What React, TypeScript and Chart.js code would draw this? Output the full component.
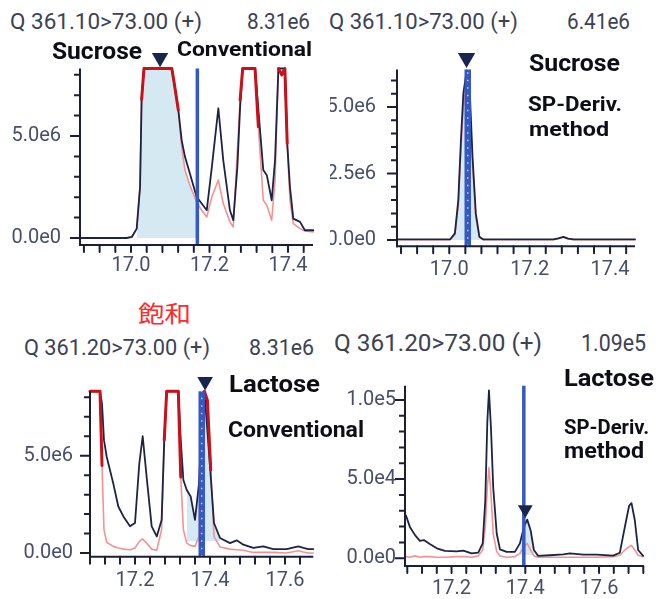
import React, { useEffect, useRef } from "react";
import { Chart, registerables } from "chart.js";

Chart.register(...registerables);

// ---------------- Panel 1: Sucrose, Conventional (Q 361.10>73.00, max 8.31e6) ----------------
const sucConvTime = [16.87, 16.989, 17.002, 17.0145, 17.023, 17.027, 17.033, 17.104, 17.11, 17.1205, 17.129, 17.1375, 17.15, 17.167, 17.18, 17.193, 17.206, 17.2225, 17.235, 17.252, 17.2606, 17.271, 17.278, 17.2845, 17.316, 17.3245, 17.337, 17.346, 17.3585, 17.367, 17.3755, 17.384, 17.392, 17.398, 17.405, 17.4135, 17.4306, 17.443, 17.4645];
const sucConvDark = [0, 0, 0.05, 0.46, 2.5, 6.8, 8.31, 8.31, 7.6, 6.28, 4.8, 3.98, 3.16, 2.02, 1.69, 1.36, 3.49, 6.36, 3.82, 1.36, 0.87, 3.49, 6.44, 8.31, 8.31, 6.28, 3.33, 3.08, 1.85, 3.82, 8.31, 8.31, 8.31, 4.64, 2.5, 0.95, 0.79, 0.38, 0.38];
const sucConvPink = [0, 0, 0.05, 0.46, 2.5, 6.8, 8.31, 8.31, 7.6, 6.28, 4.48, 3.33, 2.59, 1.77, 1.36, 1.03, 2.02, 2.84, 1.69, 0.79, 0.54, 4.3, 6.77, 8.31, 8.31, 5.46, 1.85, 1.61, 0.87, 2.84, 8.31, 8.0, 8.31, 4.64, 1.85, 0.7, 0.46, 0.34, 0.3];
const sucConvSaturated = [0, 0, 0, 0, 0, 1, 1, 1, 1, 1, 0, 0, 0, 0, 0, 0, 0, 0, 0, 0, 0, 0, 1, 1, 1, 1, 0, 0, 0, 0, 1, 1, 1, 1, 0, 0, 0, 0, 0];

// ---------------- Panel 2: Sucrose, SP-Deriv. method (Q 361.10>73.00, max 6.41e6) ----------------
const sucDerivTime = [16.87, 17.002, 17.014, 17.0225, 17.029, 17.035, 17.0433, 17.0515, 17.058, 17.066, 17.075, 17.085, 17.259, 17.271, 17.284, 17.296, 17.309, 17.462];
const sucDerivDark = [0.02, 0.02, 0.25, 1.5, 3.75, 5.5, 6.38, 5.4, 3.1, 1.0, 0.12, 0.02, 0.02, 0.06, 0.12, 0.05, 0.02, 0.02];
const sucDerivPink = [0.01, 0.01, 0.2, 1.3, 3.4, 5.0, 5.9, 4.9, 2.8, 0.85, 0.1, 0.01, 0.01, 0.05, 0.1, 0.04, 0.01, 0.01];
const sucDerivSaturated = [0, 0, 0, 0, 0, 0, 0, 0, 0, 0, 0, 0, 0, 0, 0, 0, 0, 0];

// ---------------- Panel 3: Lactose, Conventional (Q 361.20>73.00, max 8.31e6) ----------------
const lacConvTime = [17.08, 17.1067, 17.112, 17.1173, 17.1245, 17.142, 17.1555, 17.169, 17.1867, 17.2, 17.2115, 17.2205, 17.231, 17.2445, 17.258, 17.271, 17.278, 17.2845, 17.3155, 17.322, 17.329, 17.338, 17.3485, 17.36, 17.3707, 17.3795, 17.385, 17.393, 17.402, 17.4107, 17.4267, 17.4533, 17.4712, 17.489, 17.5155, 17.542, 17.5689, 17.6045, 17.6355, 17.649, 17.662, 17.6755];
const lacConvDark = [8.31, 8.31, 7.68, 5.8, 4.95, 3.58, 2.39, 1.88, 1.37, 1.54, 4.6, 6.0, 3.92, 1.37, 0.85, 1.7, 5.8, 8.31, 8.31, 5.8, 3.75, 3.24, 2.9, 1.7, 3.58, 7.5, 8.31, 6.3, 3.92, 1.54, 0.77, 0.51, 0.65, 0.43, 0.26, 0.34, 0.2, 0.2, 0.34, 0.26, 0.2, 0.2];
const lacConvPink = [8.31, 8.31, 4.5, 1.2, 0.55, 0.34, 0.26, 0.2, 0.17, 0.26, 0.6, 0.72, 0.51, 0.2, 0.14, 1.2, 5.8, 8.31, 8.31, 3.9, 1.2, 0.51, 0.38, 0.34, 0.85, 8.2, 8.31, 7.85, 4.27, 0.85, 0.31, 0.2, 0.17, 0.14, 0.03, 0.03, 0.03, 0.0, 0.12, 0.05, 0.0, 0.0];
const lacConvSaturated = [1, 1, 1, 0, 0, 0, 0, 0, 0, 0, 0, 0, 0, 0, 0, 0, 1, 1, 1, 1, 0, 0, 0, 0, 0, 1, 1, 1, 1, 0, 0, 0, 0, 0, 0, 0, 0, 0, 0, 0, 0, 0];

// ---------------- Panel 4: Lactose, SP-Deriv. method (Q 361.20>73.00, max 1.09e5) ----------------
const lacDerivTime = [17.0765, 17.087, 17.101, 17.114, 17.125, 17.141, 17.16, 17.182, 17.214, 17.232, 17.2545, 17.2725, 17.2845, 17.2915, 17.297, 17.3015, 17.307, 17.313, 17.3225, 17.3313, 17.3494, 17.3718, 17.3854, 17.3963, 17.4052, 17.4144, 17.4233, 17.435, 17.4667, 17.5028, 17.521, 17.557, 17.5933, 17.6383, 17.6564, 17.67, 17.6817, 17.688, 17.697, 17.706, 17.7196];
const lacDerivDark = [27, 19.8, 14.6, 11, 11.5, 9, 6.25, 4.6, 4.4, 4.8, 3.1, 3.5, 9.4, 36.5, 86, 106, 82, 44.8, 15.6, 5.6, 4, 4, 9.4, 19.8, 24.4, 17.7, 5.2, 1.5, 1.9, 2.5, 3.1, 2.3, 2.3, 1.7, 3.5, 19.8, 33.3, 34.8, 24, 5.2, 1.5];
const lacDerivPink = [1.0, 0.6, 1.5, 0.6, 1.0, 1.0, 0.6, 0.6, 1.0, 1.0, 0.6, 1.5, 5.2, 19.8, 44.8, 57.3, 40.6, 15.6, 4.2, 1.5, 0.6, 1.0, 3.1, 7.3, 9.4, 5.2, 1.5, 0.6, 0.6, 0.6, 0.6, 0.6, 0.6, 1.0, 1.9, 5.2, 7.3, 8.1, 5.2, 1.9, 1.0];
const lacDerivSaturated = lacDerivTime.map(() => 0);

// Axis tick labels
const sucConvYLabels = [0, 5e6];
const sucDerivYLabels = [0, 2.5e6, 5e6];
const lacConvYLabels = [0, 5e6];
const lacDerivYLabels = [0, 5e4, 1e5];
const sucXLabels = [17.0, 17.2, 17.4];
const lacXLabels = [17.2, 17.4, 17.6];

// Retention-time markers and peak-apex triangles
const sucConvRT = 17.169;
const sucDerivRT = 17.046;
const lacConvRT = 17.378;
const lacDerivRT = 17.396;
const sucConvApex = { x: 17.074, y: 8.84e6 };
const sucDerivApex = { x: 17.043, y: 6.84e6 };
const lacConvApex = { x: 17.387, y: 8.81e6 };
const lacDerivApex = { x: 17.4, y: 30.8e3 };

// Colours
const AXIS = "#1a1f36";
const NAVY = "#1d2343";
const PINK = "#f29393";
const SAT_RED = "#c8111b";
const RT_BLUE = "#3558c2";
const PEAK_FILL = "#d5e9f2";
const TRI = "#17254f";
const TICK_TEXT = "#474f68";
const TITLE = "#3c4255";
const BOLD = "#0e0f16";

const PANELS: any[] = [
  {
    box: { left: 0, top: 50, width: 320, height: 230 }, padTop: 18.5, padRight: 7, yW: 80, xH: 35,
    xMin: 16.87, xMax: 17.4637, yMin: -0.343e6, yMax: 8.31e6, unit: 1e6, yStep: 1e6,
    yLabels: sucConvYLabels, xLabels: sucXLabels, yPad: 19, xPad: 8.5,
    time: sucConvTime, dark: sucConvDark, pink: sucConvPink, sat: sucConvSaturated,
    fill: { from: 17.01, to: 17.169, src: "pink", base: 0 },
    rt: sucConvRT, rtWidth: 3.5, rtDash: false, tri: sucConvApex, triR: 9.5,
  },
  {
    box: { left: 330, top: 50, width: 310, height: 230 }, padTop: 19.5, padRight: 5, yW: 67, xH: 33.7,
    xMin: 16.87, xMax: 17.462, yMin: -0.237e6, yMax: 6.41e6, unit: 1e6, yStep: 0.5e6,
    yLabels: sucDerivYLabels, xLabels: sucXLabels, yPad: 21, xPad: 11.5,
    time: sucDerivTime, dark: sucDerivDark, pink: sucDerivPink, sat: sucDerivSaturated,
    fill: { from: 17.0, to: 17.09, src: "dark", base: 0 },
    rt: sucDerivRT, rtWidth: 6.5, rtDash: true, tri: sucDerivApex, triR: 10,
  },
  {
    box: { left: 0, top: 370, width: 320, height: 225 }, padTop: 21.3, padRight: 6.7, yW: 90, xH: 38.3,
    xMin: 17.08, xMax: 17.6755, yMin: -0.19e6, yMax: 8.31e6, unit: 1e6, yStep: 1e6,
    yLabels: lacConvYLabels, xLabels: lacXLabels, yPad: 17, xPad: 12,
    time: lacConvTime, dark: lacConvDark, pink: lacConvPink, sat: lacConvSaturated,
    fill: { from: 17.335, to: 17.43, src: "dark", base: 0.6e6 },
    rt: lacConvRT, rtWidth: 6.5, rtDash: true, tri: lacConvApex, triR: 9,
  },
  {
    box: { left: 330, top: 370, width: 320, height: 229 }, padTop: 15.7, padRight: 6.7, yW: 75, xH: 33,
    xMin: 17.0738, xMax: 17.72, yMin: -4.9e3, yMax: 1.09e5, unit: 1e3, yStep: 1e4,
    yLabels: lacDerivYLabels, xLabels: lacXLabels, yPad: 9, xPad: 10.5,
    time: lacDerivTime, dark: lacDerivDark, pink: lacDerivPink, sat: lacDerivSaturated,
    fill: { from: 17.385, to: 17.425, src: "dark", base: 2e3 },
    rt: lacDerivRT, rtWidth: 3.5, rtDash: false, tri: lacDerivApex, triR: 8.5,
  },
];

const LABELS: any[] = [
  { text: "Q 361.10>73.00 (+)", x: 10, base: 29.3, size: 22.5, w: 192, color: TITLE },
  { text: "8.31e6", x: 247, base: 29.3, size: 22.5, w: 63, color: TITLE },
  { text: "Sucrose", x: 52, base: 60, size: 23.5, bold: true, w: 90, color: BOLD },
  { text: "Conventional", x: 177, base: 57, size: 21, bold: true, w: 135, color: BOLD },
  { text: "Q 361.10>73.00 (+)", x: 329, base: 29.3, size: 22.5, w: 189, color: TITLE },
  { text: "6.41e6", x: 567, base: 29.3, size: 22.5, w: 63, color: TITLE },
  { text: "Sucrose", x: 529, base: 71, size: 24, bold: true, w: 91, color: BOLD },
  { text: "SP-Deriv.", x: 528, base: 111.7, size: 21, bold: true, w: 94, color: BOLD },
  { text: "method", x: 529, base: 136.7, size: 21, bold: true, w: 80, color: BOLD },
  { text: "飽和", x: 138, base: 321.5, size: 23, w: 53, color: "#ff2a2a", cjk: true },
  { text: "Q 361.20>73.00 (+)", x: 24, base: 355.7, size: 22, w: 186, color: TITLE },
  { text: "8.31e6", x: 249, base: 355.7, size: 22, w: 65, color: TITLE },
  { text: "Lactose", x: 229, base: 392.7, size: 23.5, bold: true, w: 91, color: BOLD },
  { text: "Conventional", x: 228, base: 436.7, size: 22.5, bold: true, w: 136, color: BOLD },
  { text: "Q 361.20>73.00 (+)", x: 334, base: 351.7, size: 24.5, w: 208, color: TITLE },
  { text: "1.09e5", x: 581, base: 351.7, size: 24.5, w: 65, color: TITLE },
  { text: "Lactose", x: 564, base: 386.7, size: 23.5, bold: true, w: 90, color: BOLD },
  { text: "SP-Deriv.", x: 564, base: 435, size: 21, bold: true, w: 85, color: BOLD },
  { text: "method", x: 564, base: 458.3, size: 22, bold: true, w: 80, color: BOLD },
];

function sci(v: number) {
  if (Math.abs(v) < 1e-9) return "0.0e0";
  const e = Math.floor(Math.log10(Math.abs(v)) + 1e-9);
  return (v / Math.pow(10, e)).toFixed(1) + "e" + e;
}

function makeTicks(p: any) {
  const xTicks: number[] = [];
  for (let k = Math.ceil(p.xMin / 0.04 - 1e-6); k * 0.04 <= p.xMax + 1e-9; k++) xTicks.push(Math.round(k * 4) / 100);
  const yTicks: number[] = [];
  for (let k = 0; k * p.yStep <= p.yMax + 1e-9; k++) yTicks.push(k * p.yStep);
  return { xTicks, yTicks };
}

// Apex triangle, placed through the chart's scales
function makeApex(p: any) {
  return {
    id: "apexMarker",
    afterDraw(chart: any) {
      const ctx = chart.ctx;
      const cx = chart.scales.x.getPixelForValue(p.tri.x);
      const cy = chart.scales.y.getPixelForValue(p.tri.y);
      const r = p.triR;
      ctx.save();
      ctx.fillStyle = TRI;
      ctx.beginPath();
      ctx.moveTo(cx - r * 0.866, cy - r / 2);
      ctx.lineTo(cx + r * 0.866, cy - r / 2);
      ctx.lineTo(cx, cy + r);
      ctx.closePath();
      ctx.fill();
      ctx.restore();
    },
  };
}

function buildChart(canvas: HTMLCanvasElement, p: any) {
  const u = p.unit;
  const series = (vals: number[]) => p.time.map((t: number, i: number) => ({ x: t, y: vals[i] * u }));
  const satPts = p.time.map((t: number, i: number) => ({ x: t, y: p.sat[i] ? p.pink[i] * u : null }));
  const src = p.fill.src === "pink" ? p.pink : p.dark;
  const fillPts = p.time
    .map((t: number, i: number) => ({ x: t, y: src[i] * u }))
    .filter((pt: any) => pt.x >= p.fill.from && pt.x <= p.fill.to);
  const rtPts = [{ x: p.rt, y: p.yMin }, { x: p.rt, y: p.yMax }];
  const { xTicks, yTicks } = makeTicks(p);

  // data units per screen pixel, so axis/tick marks can be drawn as datasets
  const areaW = p.box.width - p.yW - p.padRight;
  const areaH = p.box.height - p.padTop - p.xH;
  const xpp = (p.xMax - p.xMin) / areaW;
  const ypp = (p.yMax - p.yMin) / areaH;
  const yAxisPts = [{ x: p.xMin, y: p.yMin - ypp }, { x: p.xMin, y: p.yMax }];
  const xAxisPts = [{ x: p.xMin - xpp, y: p.yMin }, { x: p.xMax, y: p.yMin }];
  const yTickPts: any[] = [];
  yTicks.forEach((v) => {
    const major = p.yLabels.some((l: number) => Math.abs(l - v) < p.yStep * 0.01);
    const len = major ? 10 : 6;
    yTickPts.push({ x: p.xMin - len * xpp, y: v }, { x: p.xMin, y: v }, { x: p.xMin, y: null });
  });
  const xTickPts: any[] = [];
  xTicks.forEach((v) => {
    xTickPts.push({ x: v, y: p.yMin }, { x: v, y: p.yMin - 7 * ypp }, { x: v, y: null });
  });

  const base = { pointRadius: 0, tension: 0, borderJoinStyle: "round", borderCapStyle: "round", clip: false };
  const axisBase = { ...base, borderColor: AXIS, borderWidth: 2, borderCapStyle: "butt", spanGaps: false, order: 0 };
  const datasets: any[] = [
    { ...axisBase, data: yAxisPts },
    { ...axisBase, data: xAxisPts },
    { ...axisBase, data: yTickPts },
    { ...axisBase, data: xTickPts },
    { ...base, data: rtPts, borderColor: RT_BLUE, borderWidth: p.rtWidth, borderCapStyle: "butt", order: 2 },
    { ...base, data: satPts, borderColor: SAT_RED, borderWidth: 3, spanGaps: false, order: 3 },
    { ...base, data: series(p.dark), borderColor: NAVY, borderWidth: 1.8, order: 4 },
    { ...base, data: series(p.pink), borderColor: PINK, borderWidth: 1.6, order: 5 },
    { ...base, data: fillPts, borderWidth: 0, borderColor: PEAK_FILL, backgroundColor: PEAK_FILL, fill: p.fill.base === 0 ? "origin" : { value: p.fill.base }, order: 6 },
  ];
  if (p.rtDash) {
    datasets.push({ ...base, data: rtPts, borderColor: "rgba(255,255,255,0.9)", borderWidth: 1.2, borderDash: [1.5, 6], borderCapStyle: "butt", order: 1 });
  }

  const tickFont = { family: "Roboto", size: 20 };
  return new Chart(canvas, {
    type: "line",
    data: { datasets },
    plugins: [makeApex(p)],
    options: {
      animation: false,
      responsive: false,
      events: [],
      layout: { padding: { top: p.padTop, right: p.padRight, left: 0, bottom: 0 } },
      plugins: { legend: { display: false }, tooltip: { enabled: false } },
      scales: {
        x: {
          type: "linear",
          min: p.xMin,
          max: p.xMax,
          afterBuildTicks: (s: any) => { s.ticks = xTicks.map((v) => ({ value: v })); },
          afterFit: (s: any) => { s.height = p.xH; s.paddingLeft = 0; s.paddingRight = 0; s.paddingTop = 0; s.paddingBottom = 0; },
          ticks: {
            autoSkip: false, maxRotation: 0, minRotation: 0, padding: p.xPad, color: TICK_TEXT, font: tickFont,
            callback: (v: number) => (p.xLabels.some((l: number) => Math.abs(l - v) < 1e-6) ? Number(v).toFixed(1) : ""),
          },
          grid: { display: false, drawTicks: false },
          border: { display: false },
        },
        y: {
          type: "linear",
          min: p.yMin,
          max: p.yMax,
          afterBuildTicks: (s: any) => { s.ticks = yTicks.map((v) => ({ value: v })); },
          afterFit: (s: any) => { s.width = p.yW; s.paddingLeft = 0; s.paddingRight = 0; s.paddingTop = 0; s.paddingBottom = 0; },
          ticks: {
            autoSkip: false, padding: p.yPad, color: TICK_TEXT, font: tickFont,
            callback: (v: number) => (p.yLabels.some((l: number) => Math.abs(l - v) < p.yStep * 0.01) ? sci(v) : ""),
          },
          grid: { display: false, drawTicks: false },
          border: { display: false },
        },
      },
    } as any,
  } as any);
}

function PanelChart({ p }: { p: any }) {
  const ref = useRef<HTMLCanvasElement | null>(null);
  useEffect(() => {
    if (!ref.current) return;
    const chart = buildChart(ref.current, p);
    return () => chart.destroy();
  }, [p]);
  return (
    <canvas
      ref={ref}
      width={p.box.width}
      height={p.box.height}
      style={{ position: "absolute", left: p.box.left, top: p.box.top, width: p.box.width, height: p.box.height }}
    />
  );
}

let measureCtx: CanvasRenderingContext2D | null = null;
function measure(text: string, font: string) {
  if (!measureCtx) measureCtx = document.createElement("canvas").getContext("2d");
  if (!measureCtx) return 0;
  measureCtx.font = font;
  return measureCtx.measureText(text).width;
}

function Label({ l }: { l: any }) {
  const family = l.cjk ? '"Noto Sans CJK JP", "Noto Sans CJK SC", sans-serif' : "Roboto, sans-serif";
  const weight = l.bold ? 700 : 400;
  const m = measure(l.text, `${weight} ${l.size}px ${family}`);
  const k = m > 0 && l.w ? l.w / m : 1;
  const asc = l.cjk ? 0.88 : 0.842;
  return (
    <div
      style={{
        position: "absolute",
        left: l.x,
        top: l.base - asc * l.size,
        fontFamily: family,
        fontWeight: weight,
        fontSize: l.size,
        lineHeight: 1,
        whiteSpace: "nowrap",
        color: l.color,
        transform: `scaleX(${k})`,
        transformOrigin: "0 0",
      }}
    >
      {l.text}
    </div>
  );
}

export default function App() {
  return (
    <div style={{ position: "fixed", left: 0, top: 0, width: 656, height: 599, background: "#ffffff", overflow: "hidden" }}>
      {PANELS.map((p, i) => (
        <PanelChart key={i} p={p} />
      ))}
      {LABELS.map((l, i) => (
        <Label key={i} l={l} />
      ))}
    </div>
  );
}
